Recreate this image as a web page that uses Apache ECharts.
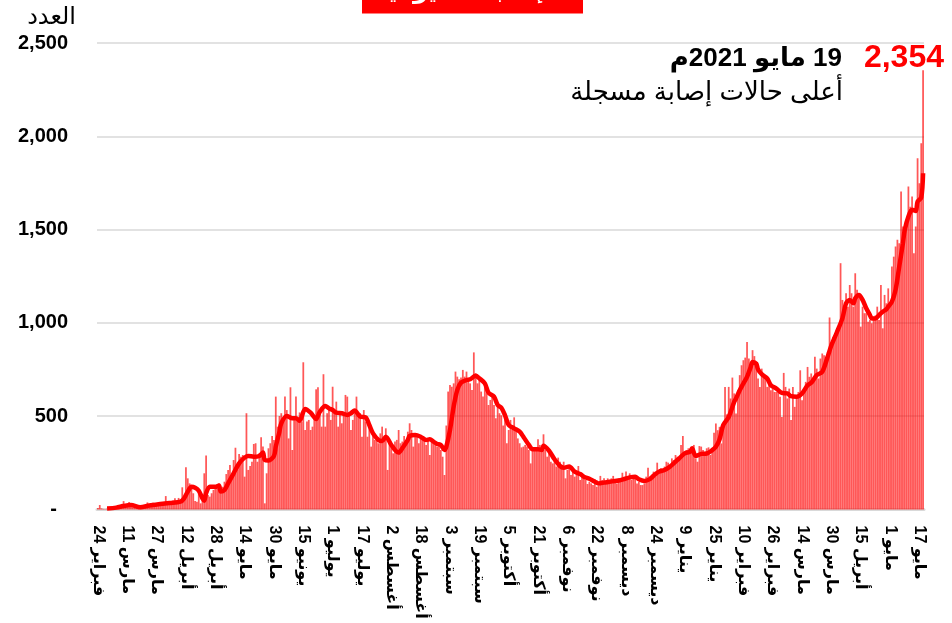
<!DOCTYPE html>
<html lang="ar">
<head>
<meta charset="utf-8">
<title>الإصابات اليومية</title>
<style>
  html, body { margin: 0; padding: 0; background: #ffffff; }
  #chart { width: 952px; height: 623px; }
</style>
<script src="https://cdn.jsdelivr.net/npm/echarts@6.0.0/dist/echarts.min.js"></script>
</head>
<body>
<div id="chart"></div>
<script>
// daily cases (24 Feb 2020 .. 19 May 2021)
const feb2020 = [8, 24, 6, 3, 2, 4];
const mar2020 = [2, 3, 5, 7, 12, 15, 20, 30, 45, 20, 25, 40, 15, 12, 8, 10, 15, 9, 10, 12, 14, 38, 20, 22, 36, 25, 18, 30, 32, 28, 25];
const apr2020 = [72, 30, 40, 35, 48, 60, 38, 62, 45, 119, 69, 226, 167, 140, 122, 87, 46, 42, 87, 33, 60, 194, 289, 78, 69, 87, 105, 126, 113, 140];
const may2020 = [96, 122, 149, 190, 212, 239, 167, 265, 331, 212, 298, 283, 292, 176, 516, 212, 233, 256, 351, 355, 256, 301, 387, 337, 33, 194, 328, 355, 394, 373, 605];
const jun2020 = [444, 501, 516, 480, 605, 533, 381, 655, 319, 480, 605, 470, 520, 470, 789, 426, 471, 480, 426, 444, 489, 644, 655, 516, 444, 725, 444, 516, 533, 480];
const jul2020 = [658, 516, 578, 444, 524, 462, 516, 614, 605, 524, 426, 480, 516, 605, 516, 516, 390, 533, 471, 390, 444, 337, 408, 373, 373, 355, 408, 444, 381, 435, 212];
const aug2020 = [355, 355, 301, 364, 373, 426, 355, 364, 394, 373, 417, 462, 426, 337, 408, 390, 355, 399, 373, 381, 346, 373, 292, 368, 364, 346, 337, 346, 319, 283, 185];
const sep2020 = [450, 632, 667, 658, 676, 739, 712, 698, 708, 748, 712, 739, 694, 676, 641, 842, 730, 676, 703, 632, 605, 658, 623, 560, 587, 605, 560, 489, 569, 516];
const oct2020 = [505, 450, 510, 355, 426, 480, 426, 494, 426, 381, 355, 333, 337, 346, 337, 319, 247, 328, 319, 328, 376, 346, 328, 403, 319, 283, 301, 256, 247, 274, 230];
const nov2020 = [278, 256, 230, 256, 167, 212, 230, 185, 212, 176, 194, 233, 158, 185, 167, 158, 137, 149, 140, 131, 162, 122, 128, 180, 158, 167, 140, 167, 158, 167];
const dec2020 = [180, 158, 140, 167, 149, 197, 176, 203, 176, 194, 158, 185, 167, 140, 149, 131, 131, 140, 176, 224, 176, 158, 203, 176, 251, 203, 221, 212, 230, 256, 251];
const jan2021 = [239, 274, 265, 292, 283, 265, 346, 394, 292, 319, 328, 319, 328, 346, 274, 256, 340, 337, 319, 301, 328, 333, 292, 330, 411, 461, 425, 443, 354, 461, 657];
const feb2021 = [510, 657, 595, 707, 622, 514, 639, 720, 773, 800, 814, 898, 809, 755, 854, 822, 773, 702, 657, 755, 706, 711, 657, 693, 639, 648, 630, 630];
const mar2021 = [639, 604, 496, 732, 657, 595, 648, 479, 657, 550, 604, 630, 746, 586, 648, 684, 764, 711, 729, 693, 818, 755, 702, 809, 836, 827, 818, 845, 1029, 889, 925];
const apr2021 = [935, 940, 962, 1320, 1123, 1052, 1159, 1087, 1203, 1159, 1087, 1266, 1177, 1159, 980, 1087, 1052, 1052, 1006, 1016, 998, 1033, 1040, 1087, 1016, 1203, 971, 1150, 1105, 1185];
const may2021 = [1087, 1302, 1355, 1409, 1445, 1427, 1704, 1516, 1498, 1543, 1731, 1623, 1677, 1373, 1516, 1882, 1748, 1963, 2354];

// moving average line at these day numbers (day 0 = 24 Feb 2020)
const avgDays = [5, 10, 14, 18, 23, 28, 34, 39, 45, 47, 49, 51, 53, 55, 57, 58, 59, 61, 64, 66, 67, 69, 71, 74, 77, 80, 82, 85, 88, 90, 91, 93, 96, 97, 99, 100, 103, 106, 108, 110, 113, 116, 119, 121, 124, 126, 128, 130, 133, 136, 138, 140, 143, 146, 148, 150, 153, 155, 157, 160, 162, 164, 166, 169, 170, 173, 176, 179, 181, 183, 185, 187, 189, 190, 192, 194, 196, 198, 201, 203, 206, 208, 211, 213, 216, 218, 220, 222, 224, 227, 230, 232, 235, 237, 240, 242, 243, 246, 249, 252, 254, 257, 260, 263, 265, 268, 271, 273, 276, 279, 282, 284, 287, 290, 293, 295, 298, 301, 303, 306, 309, 312, 314, 317, 320, 323, 324, 326, 329, 332, 335, 337, 339, 341, 344, 347, 348, 350, 352, 354, 356, 357, 359, 360, 362, 365, 367, 370, 373, 376, 378, 381, 384, 387, 389, 392, 395, 398, 400, 403, 406, 408, 410, 412, 413, 415, 417, 419, 421, 422, 424, 426, 428, 430, 431, 433, 435, 437, 439, 440, 442, 444, 446, 447, 449, 450];
const avgValues = [6, 10, 19, 24, 12, 21, 29, 35, 42, 60, 96, 122, 117, 101, 60, 47, 87, 122, 122, 128, 96, 105, 140, 194, 247, 278, 287, 283, 287, 305, 265, 262, 287, 337, 417, 462, 501, 489, 489, 476, 539, 519, 485, 524, 555, 542, 533, 519, 516, 507, 516, 530, 498, 494, 453, 408, 373, 367, 390, 346, 319, 305, 328, 373, 394, 399, 390, 373, 376, 364, 351, 346, 319, 337, 426, 551, 641, 680, 694, 698, 717, 703, 676, 626, 605, 560, 545, 505, 453, 435, 417, 390, 346, 323, 323, 319, 342, 315, 269, 233, 224, 230, 203, 190, 176, 165, 149, 140, 144, 149, 153, 155, 163, 172, 176, 162, 153, 163, 181, 203, 212, 230, 247, 274, 301, 310, 328, 287, 298, 300, 318, 336, 375, 452, 496, 577, 595, 639, 675, 711, 764, 791, 782, 750, 725, 702, 666, 648, 625, 622, 607, 604, 622, 666, 679, 720, 738, 820, 880, 950, 1024, 1105, 1123, 1105, 1132, 1150, 1123, 1078, 1042, 1024, 1024, 1042, 1060, 1073, 1087, 1114, 1177, 1302, 1427, 1498, 1570, 1606, 1600, 1650, 1672, 1802];

// x tick labels, one every 16 days
const tickLabels = ['24 فبراير', '11 مارس', '27 مارس', '12 أبريل', '28 أبريل', '14 مايو', '30 مايو', '15 يونيو', '1 يوليو', '17 يوليو', '2 أغسطس', '18 أغسطس', '3 سبتمبر', '19 سبتمبر', '5 أكتوبر', '21 أكتوبر', '6 نوفمبر', '22 نوفمبر', '8 ديسمبر', '24 ديسمبر', '9 يناير', '25 يناير', '10 فبراير', '26 فبراير', '14 مارس', '30 مارس', '15 أبريل', '1 مايو', '17 مايو'];
const tickStep = 16;

const dailyCases = [].concat(feb2020, mar2020, apr2020, may2020, jun2020, jul2020, aug2020,
  sep2020, oct2020, nov2020, dec2020, jan2021, feb2021, mar2021, apr2021, may2021);
const categories = dailyCases.map((v, i) => String(i));
const avgData = avgDays.map((d, k) => [d, avgValues[k]]);
const lastValue = dailyCases[dailyCases.length - 1];

const FONT = "'Liberation Sans', 'DejaVu Sans', sans-serif";

const chart = echarts.init(document.getElementById('chart'), null, { renderer: 'canvas' });

const option = {
  animation: false,
  backgroundColor: '#ffffff',
  textStyle: { fontFamily: FONT },
  grid: {
    left: 97,
    right: 28,
    top: 43,
    bottom: 113.5,
    containLabel: false,
    outerBoundsMode: 'none'
  },
  xAxis: {
    type: 'category',
    data: categories,
    axisLine: { show: true, lineStyle: { color: '#d9d9d9', width: 3 } },
    axisTick: { show: false },
    splitLine: { show: false },
    axisLabel: {
      interval: tickStep - 1,
      rotate: -90,
      margin: 16,
      color: '#000000',
      fontSize: 16,
      fontWeight: 'bold',
      fontFamily: FONT,
      formatter: (value, index) => (index % tickStep === 0 ? tickLabels[index / tickStep] : '')
    }
  },
  yAxis: {
    type: 'value',
    min: 0,
    max: 2500,
    interval: 500,
    axisLine: { show: false },
    axisTick: { show: false },
    splitLine: { lineStyle: { color: '#d9d9d9', width: 1.5 } },
    axisLabel: {
      margin: 29,
      color: '#000000',
      fontSize: 20,
      fontWeight: 'bold',
      fontFamily: FONT,
      formatter: (v) => (v === 0 ? '{z|-}' : v.toLocaleString('en-US')),
      rich: {
        z: { fontSize: 20, fontWeight: 'bold', color: '#000000', padding: [0, 11, 0, 0] }
      }
    }
  },
  series: [
    {
      name: 'الإصابات اليومية',
      type: 'bar',
      data: dailyCases,
      barCategoryGap: '4%',
      itemStyle: { color: 'rgba(255, 0, 0, 0.66)' }
    },
    {
      name: 'المتوسط',
      type: 'line',
      data: avgData,
      smooth: 0.3,
      symbol: 'none',
      lineStyle: { color: '#ff0000', width: 4.5 },
      z: 3
    }
  ],
  graphic: [
    // red title box, cut off by the top edge
    { type: 'rect', shape: { x: 362, y: 0, width: 221, height: 13.5 }, style: { fill: '#ff0000' } },
    {
      type: 'text', x: 468, y: 3,
      style: { text: 'الإصابات اليومية', fill: '#ffffff', align: 'center', verticalAlign: 'bottom',
        font: "bold 24px " + FONT }
    },
    {
      type: 'text', x: 76, y: 17,
      style: { text: 'العدد', fill: '#000000', align: 'right', verticalAlign: 'middle',
        font: "24px " + FONT }
    },
    {
      type: 'text', x: 944, y: 58,
      style: { text: lastValue.toLocaleString('en-US'), fill: '#ff0000', align: 'right', verticalAlign: 'middle',
        font: "bold 32px " + FONT }
    },
    {
      type: 'text', x: 842, y: 59,
      style: { text: '\u202B19 مايو 2021م\u202C', fill: '#000000', align: 'right', verticalAlign: 'middle',
        font: "bold 26px " + FONT }
    },
    {
      type: 'text', x: 843, y: 93,
      style: { text: 'أعلى حالات إصابة مسجلة', fill: '#000000', align: 'right', verticalAlign: 'middle',
        font: "26px " + FONT }
    }
  ]
};

chart.setOption(option);
</script>
</body>
</html>
